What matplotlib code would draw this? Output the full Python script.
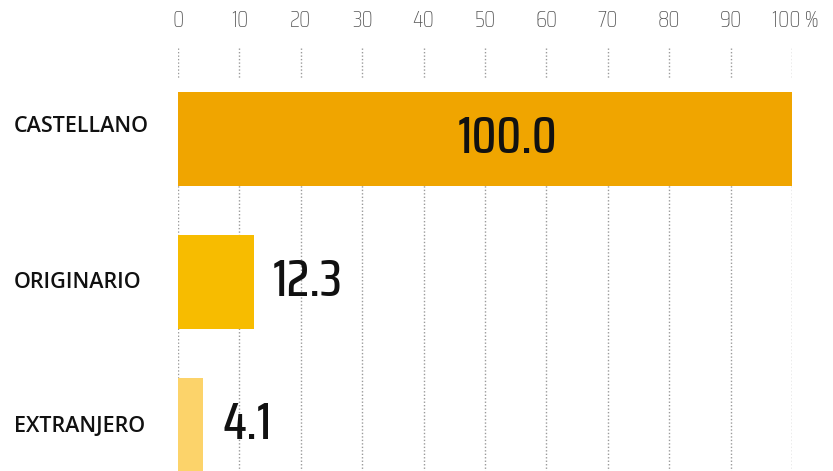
import matplotlib
matplotlib.use("Agg")
import matplotlib.pyplot as plt

categories = ["CASTELLANO", "ORIGINARIO", "EXTRANJERO"]
values = [100.0, 12.3, 4.1]
value_labels = ["100.0", "12.3", "4.1"]
ticks = [0, 10, 20, 30, 40, 50, 60, 70, 80, 90, 100]
tick_labels = ["0", "10", "20", "30", "40", "50", "60", "70", "80", "90", "100 %"]
colors = ["#F0A500", "#F7BC00", "#FCD36A"]

fig = plt.figure(figsize=(8.33, 4.71), dpi=100)
ax = fig.add_axes([178 / 833, 0, 614 / 833, 1])
ax.set_xlim(0, 100)
ax.set_ylim(2.322, -0.972)
ax.axis("off")

ypos = list(range(len(categories)))
bh = 0.657

tickfont = dict(family=["Saira Condensed", "Saira ExtraCondensed", "DejaVu Sans"], fontsize=16.5,
                fontweight="light", color="#555555")
for t, lab in zip(ticks, tick_labels):
    ax.plot([t, t], [-0.636, -0.427], ls=(0, (1, 1.5)), color="#9a9a9a", lw=1.0, zorder=1)
    ax.plot([t, t], [-bh / 2, 2.322], ls=(0, (1, 1.5)), color="#9a9a9a", lw=1.0, zorder=1)
    xoff = 0.6 if "%" in lab else 0
    ax.text(t + xoff, -0.832, lab, ha="center", va="center", **tickfont)

ax.barh(ypos, values, height=bh, color=colors, zorder=2)

valfont = dict(family=["Saira Condensed", "Saira ExtraCondensed", "DejaVu Sans"], fontsize=37,
               fontweight="medium", color="#111111")
for i, (v, lab) in enumerate(zip(values, value_labels)):
    if v > 50:
        ax.text(v / 2 + 3.7, i, lab, ha="center", va="center", zorder=3, **valfont)
    else:
        ax.text(v + 3.2, i, lab, ha="left", va="center", zorder=3, **valfont)

for i, c in enumerate(categories):
    yc = 139 + 143 * i - (12 if i == 0 else -1)
    fig.text(14 / 833, 1 - yc / 471, c, ha="left", va="center",
             fontsize=15.5, fontweight="semibold", family=["Open Sans", "DejaVu Sans"],
             color="#111111")

fig.savefig("out.png", dpi=100)
